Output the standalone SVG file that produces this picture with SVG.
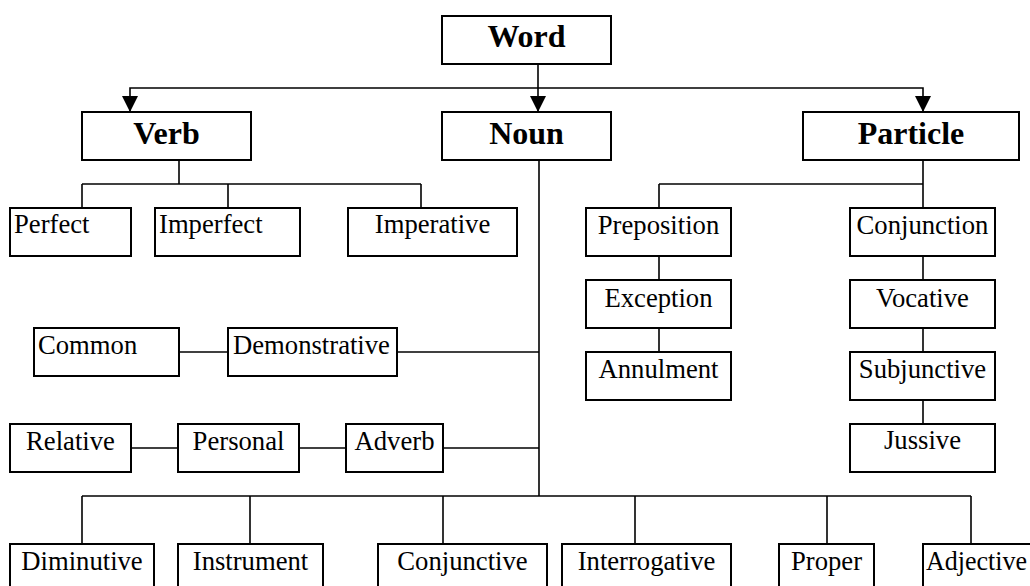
<svg xmlns="http://www.w3.org/2000/svg" width="1030" height="586" viewBox="0 0 1030 586">
  <defs>
    <style>
      .box { fill: #fff; stroke: #000; stroke-width: 2; }
      .lbl { font-family: "Liberation Serif", "Times New Roman", serif; font-size: 26.67px; fill: #000; text-anchor: middle; }
      .lbl.start { text-anchor: start; }
      .head { font-family: "Liberation Serif", "Times New Roman", serif; font-size: 32px; font-weight: bold; fill: #000; text-anchor: middle; }
      .wire { fill: none; stroke: #000; stroke-width: 1.6; }
    </style>
    <marker id="arrow" markerUnits="userSpaceOnUse" markerWidth="16" markerHeight="16" viewBox="0 0 14 14" refX="14" refY="7" orient="auto">
      <path d="M0,0 L14,7 L0,14 z" fill="#000"/>
    </marker>
  </defs>

  <rect width="1030" height="586" fill="#fff"/>

  <!-- connectors -->
  <g id="connectors" class="wire">
    <!-- Word to the three classes -->
    <line x1="538" y1="64" x2="538" y2="112" marker-end="url(#arrow)"/>
    <polyline points="538,88 130,88 130,112" marker-end="url(#arrow)"/>
    <polyline points="538,88 923,88 923,112" marker-end="url(#arrow)"/>
    <!-- Verb branch -->
    <line x1="179" y1="160" x2="179" y2="184"/>
    <line x1="82" y1="184" x2="421" y2="184"/>
    <line x1="82" y1="184" x2="82" y2="208"/>
    <line x1="228" y1="184" x2="228" y2="208"/>
    <line x1="421" y1="184" x2="421" y2="208"/>
    <!-- Noun branch -->
    <line x1="539" y1="160" x2="539" y2="496"/>
    <line x1="397" y1="352" x2="539" y2="352"/>
    <line x1="179" y1="352" x2="228" y2="352"/>
    <line x1="443" y1="448" x2="539" y2="448"/>
    <line x1="130" y1="448" x2="178" y2="448"/>
    <line x1="299" y1="448" x2="346" y2="448"/>
    <line x1="82" y1="496" x2="971" y2="496"/>
    <line x1="82" y1="496" x2="82" y2="544"/>
    <line x1="250" y1="496" x2="250" y2="544"/>
    <line x1="443" y1="496" x2="443" y2="544"/>
    <line x1="635" y1="496" x2="635" y2="544"/>
    <line x1="827" y1="496" x2="827" y2="544"/>
    <line x1="971" y1="496" x2="971" y2="544"/>
    <!-- Particle branch -->
    <line x1="923" y1="160" x2="923" y2="208"/>
    <line x1="659" y1="184" x2="923" y2="184"/>
    <line x1="659" y1="184" x2="659" y2="208"/>
    <line x1="659" y1="256" x2="659" y2="280"/>
    <line x1="659" y1="328" x2="659" y2="352"/>
    <line x1="923" y1="256" x2="923" y2="280"/>
    <line x1="923" y1="328" x2="923" y2="352"/>
    <line x1="923" y1="400" x2="923" y2="424"/>
  </g>

  <!-- top level -->
  <g id="word"><rect class="box" x="442" y="16" width="169" height="48"/><text class="head" x="526.5" y="47">Word</text></g>
  <g id="verb"><rect class="box" x="82" y="112" width="169" height="48"/><text class="head" x="166.5" y="144">Verb</text></g>
  <g id="noun"><rect class="box" x="442" y="112" width="169" height="48"/><text class="head" x="526.5" y="144">Noun</text></g>
  <g id="particle"><rect class="box" x="803" y="112" width="216" height="48"/><text class="head" x="911" y="144">Particle</text></g>

  <!-- verb forms -->
  <g id="perfect"><rect class="box" x="10" y="208" width="121" height="48"/><text class="lbl start" x="14" y="233">Perfect</text></g>
  <g id="imperfect"><rect class="box" x="155" y="208" width="145" height="48"/><text class="lbl start" x="159" y="233">Imperfect</text></g>
  <g id="imperative"><rect class="box" x="348" y="208" width="169" height="48"/><text class="lbl" x="432.5" y="233">Imperative</text></g>

  <!-- noun kinds -->
  <g id="common"><rect class="box" x="34" y="328" width="145" height="48"/><text class="lbl start" x="38" y="354">Common</text></g>
  <g id="demonstrative"><rect class="box" x="228" y="328" width="169" height="48"/><text class="lbl start" x="233" y="354">Demonstrative</text></g>
  <g id="relative"><rect class="box" x="10" y="424" width="121" height="48"/><text class="lbl" x="70.5" y="450">Relative</text></g>
  <g id="personal"><rect class="box" x="178" y="424" width="121" height="48"/><text class="lbl" x="238.5" y="450">Personal</text></g>
  <g id="adverb"><rect class="box" x="346" y="424" width="97" height="48"/><text class="lbl" x="394.5" y="450">Adverb</text></g>
  <g id="diminutive"><rect class="box" x="10" y="544" width="144" height="48"/><text class="lbl" x="82" y="570">Diminutive</text></g>
  <g id="instrument"><rect class="box" x="178" y="544" width="145" height="48"/><text class="lbl" x="250.5" y="570">Instrument</text></g>
  <g id="conjunctive"><rect class="box" x="378" y="544" width="169" height="48"/><text class="lbl" x="462.5" y="570">Conjunctive</text></g>
  <g id="interrogative"><rect class="box" x="562" y="544" width="169" height="48"/><text class="lbl" x="646.5" y="570">Interrogative</text></g>
  <g id="proper"><rect class="box" x="779" y="544" width="95" height="48"/><text class="lbl" x="826.5" y="570">Proper</text></g>
  <g id="adjective"><rect class="box" x="923" y="544" width="121" height="48"/><text class="lbl start" x="926" y="570" textLength="101" lengthAdjust="spacingAndGlyphs">Adjective</text></g>

  <!-- particle kinds -->
  <g id="preposition"><rect class="box" x="586" y="208" width="145" height="48"/><text class="lbl" x="658.5" y="234">Preposition</text></g>
  <g id="exception"><rect class="box" x="586" y="280" width="145" height="48"/><text class="lbl" x="658.5" y="307">Exception</text></g>
  <g id="annulment"><rect class="box" x="586" y="352" width="145" height="48"/><text class="lbl" x="658.5" y="378">Annulment</text></g>
  <g id="conjunction"><rect class="box" x="850" y="208" width="145" height="48"/><text class="lbl" x="922.5" y="234">Conjunction</text></g>
  <g id="vocative"><rect class="box" x="850" y="280" width="145" height="48"/><text class="lbl" x="922.5" y="307">Vocative</text></g>
  <g id="subjunctive"><rect class="box" x="850" y="352" width="145" height="48"/><text class="lbl" x="922.5" y="378">Subjunctive</text></g>
  <g id="jussive"><rect class="box" x="850" y="424" width="145" height="48"/><text class="lbl" x="922.5" y="449">Jussive</text></g>
</svg>
